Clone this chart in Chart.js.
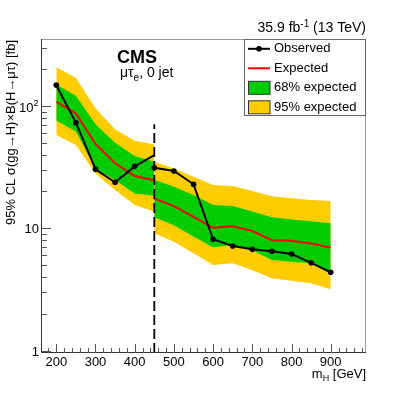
<!DOCTYPE html>
<html>
<head>
<meta charset="utf-8">
<script src="https://cdn.jsdelivr.net/npm/chart.js@4/dist/chart.umd.min.js"></script>
<style>
  html, body { margin: 0; padding: 0; background: #fff; }
</style>
</head>
<body>
<canvas id="limits" width="407" height="393"></canvas>
<script>
'use strict';

// Higgs mass points [GeV], split at the 450 GeV boundary between the two selections
const massLow = [200, 250, 300, 350, 400, 450];
const massHigh = [450, 500, 550, 600, 650, 700, 750, 800, 850, 900];

// 95% CL upper limits [fb], low mass range
const observedLow = [148, 73, 30.4, 23.8, 32.1, 39.7];
const expectedLow = [108, 87, 49, 34, 26.8, 24.7];
const band68UpLow = [150, 121, 71, 50, 39, 35];
const band68DnLow = [76, 62, 31, 24.8, 19.3, 18.5];
const band95UpLow = [207, 170, 96, 64.5, 52, 48.5];
const band95DnLow = [58, 48, 28, 20.6, 15.5, 13.7];

// 95% CL upper limits [fb], high mass range
const observedHigh = [31.3, 29.4, 22.9, 8.13, 7.17, 6.73, 6.49, 6.17, 5.22, 4.37];
const expectedHigh = [17.5, 15.2, 12.4, 10.1, 10.4, 9.5, 8.0, 7.9, 7.5, 6.95];
const band68UpHigh = [25, 21.9, 18.7, 15.5, 15.2, 13.7, 12.3, 11.8, 11.4, 11.0];
const band68DnHigh = [12.3, 10.6, 8.55, 7.0, 7.3, 6.6, 5.5, 5.33, 5.17, 4.4];
const band95UpHigh = [35, 30.9, 26.4, 22.6, 22.2, 20.2, 18.3, 17.6, 17.0, 16.7];
const band95DnHigh = [9.1, 7.76, 6.25, 5.0, 5.17, 4.55, 3.9, 3.73, 3.55, 3.17];

// dashed boundary line
const boundaryMass = [450, 450];
const boundaryLimit = [0.956, 70.8];

// axes
const xTickValues = [200, 300, 400, 500, 600, 700, 800, 900];
const yTickValues = [1, 10, 100];
const yTickLabels = [['1', ''], ['10', ''], ['10', '2']];

const FONT = '"Liberation Sans", Arial, Helvetica, sans-serif';
const GREEN = '#00cc00';
const YELLOW = '#ffcc00';

const toPoints = (xs, ys) => xs.map((x, i) => ({ x, y: ys[i] }));

function band(xs, ys, color, fill) {
  return {
    data: toPoints(xs, ys),
    borderWidth: 0,
    borderColor: 'transparent',
    backgroundColor: color,
    pointRadius: 0,
    tension: 0,
    fill,
  };
}

// first dataset is drawn on top
const datasets = [
  {
    data: toPoints(boundaryMass, boundaryLimit),
    borderColor: '#000',
    borderWidth: 1.8,
    borderDash: [10, 4],
    pointRadius: 0,
    fill: false,
  },
  {
    data: toPoints(massLow, observedLow),
    borderColor: '#000',
    borderWidth: 2,
    pointRadius: massLow.map((m, i) => (i === massLow.length - 1 ? 0 : 2.8)),
    pointBackgroundColor: '#000',
    pointBorderWidth: 0,
    fill: false,
  },
  {
    data: toPoints(massHigh, observedHigh),
    borderColor: '#000',
    borderWidth: 2,
    pointRadius: 2.8,
    pointBackgroundColor: '#000',
    pointBorderWidth: 0,
    fill: false,
  },
  { data: toPoints(massLow, expectedLow), borderColor: '#ff0000', borderWidth: 2, pointRadius: 0, fill: false },
  { data: toPoints(massHigh, expectedHigh), borderColor: '#ff0000', borderWidth: 2, pointRadius: 0, fill: false },
  band(massLow, band68UpLow, GREEN, '+1'),
  band(massLow, band68DnLow, GREEN, false),
  band(massHigh, band68UpHigh, GREEN, '+1'),
  band(massHigh, band68DnHigh, GREEN, false),
  band(massLow, band95UpLow, YELLOW, '+1'),
  band(massLow, band95DnLow, YELLOW, false),
  band(massHigh, band95UpHigh, YELLOW, '+1'),
  band(massHigh, band95DnHigh, YELLOW, false),
];

// draws text made of pieces with their own size and vertical shift
function richText(ctx, parts, x, y, align, bold) {
  const weight = bold ? 'bold ' : '';
  let width = 0;
  for (const p of parts) {
    ctx.font = `${weight}${p.size}px ${FONT}`;
    width += ctx.measureText(p.t).width;
  }
  let cx = align === 'right' ? x - width : align === 'center' ? x - width / 2 : x;
  ctx.textAlign = 'left';
  for (const p of parts) {
    ctx.font = `${weight}${p.size}px ${FONT}`;
    ctx.fillText(p.t, cx, y + (p.dy || 0));
    cx += ctx.measureText(p.t).width;
  }
}

const decorations = {
  id: 'decorations',
  afterDraw(chart) {
    const { ctx, chartArea: a, scales } = chart;
    const xs = scales.x;
    const ys = scales.y;
    ctx.save();

    // frame
    ctx.lineWidth = 1;
    ctx.strokeStyle = '#999';
    ctx.beginPath();
    ctx.moveTo(a.left, a.top + 0.5);
    ctx.lineTo(a.right - 0.5, a.top + 0.5);
    ctx.lineTo(a.right - 0.5, a.bottom);
    ctx.stroke();
    ctx.strokeStyle = '#333';
    ctx.beginPath();
    ctx.moveTo(a.left + 0.5, a.top);
    ctx.lineTo(a.left + 0.5, a.bottom - 0.5);
    ctx.lineTo(a.right, a.bottom - 0.5);
    ctx.stroke();

    // x ticks, pointing inwards
    ctx.strokeStyle = '#555';
    ctx.beginPath();
    for (let m = 180; m < xs.max; m += 20) {
      const px = Math.round(xs.getPixelForValue(m)) + 0.5;
      const len = m % 100 === 0 ? 9 : 5;
      ctx.moveTo(px, a.bottom);
      ctx.lineTo(px, a.bottom - len);
    }
    // y ticks
    for (let d = 1; d <= 100; d *= 10) {
      for (let k = 1; k <= 9; k++) {
        const v = d * k;
        if (v > ys.max) break;
        const py = Math.round(ys.getPixelForValue(v)) + 0.5;
        const len = k === 1 ? 10 : 6;
        ctx.moveTo(a.left, py);
        ctx.lineTo(a.left + len, py);
      }
    }
    ctx.stroke();

    ctx.fillStyle = '#000';
    ctx.textBaseline = 'alphabetic';

    // x tick labels
    ctx.font = `13px ${FONT}`;
    ctx.textAlign = 'center';
    for (const v of xTickValues) {
      ctx.fillText(String(v), xs.getPixelForValue(v), a.bottom + 13);
    }
    // y tick labels
    yTickValues.forEach((v, i) => {
      const [base, exp] = yTickLabels[i];
      const py = ys.getPixelForValue(v) + 5;
      if (exp) {
        richText(ctx, [{ t: base, size: 13 }, { t: exp, size: 9, dy: -6 }], 38.5, py + 1, 'right');
      } else {
        richText(ctx, [{ t: base, size: 13 }], 39, py, 'right');
      }
    });

    // axis titles
    richText(ctx, [{ t: 'm', size: 13 }, { t: 'H', size: 9, dy: 3 }, { t: ' [GeV]', size: 13 }], a.right, 378, 'right');
    ctx.save();
    ctx.translate(14.5, a.top + 1);
    ctx.rotate(-Math.PI / 2);
    richText(ctx, [{ t: '95% CL σ(gg→H)×B(H→μτ) [fb]', size: 13 }], 0, 0, 'right');
    ctx.restore();

    // header texts
    richText(ctx, [{ t: '35.9 fb', size: 14 }, { t: '-1', size: 10, dy: -5 }, { t: ' (13 TeV)', size: 14 }], a.right, 32, 'right');
    richText(ctx, [{ t: 'CMS', size: 18 }], 137, 63.3, 'center', true);
    richText(ctx, [{ t: 'μτ', size: 14 }, { t: 'e', size: 10, dy: 4 }, { t: ', 0 jet', size: 14 }], 120, 76.5, 'left');

    // legend
    const lx = 244, ly = a.top, lw = a.right - 244, lh = 77;
    ctx.fillStyle = '#fff';
    ctx.fillRect(lx, ly, lw, lh);
    ctx.strokeStyle = '#666';
    ctx.lineWidth = 1;
    ctx.strokeRect(lx + 0.5, ly + 0.5, lw - 1, lh - 1);

    const rows = [48.8, 68.3, 87.8, 107.3];
    ctx.lineWidth = 2;
    ctx.strokeStyle = '#000';
    ctx.beginPath();
    ctx.moveTo(248, rows[0]);
    ctx.lineTo(270, rows[0]);
    ctx.stroke();
    ctx.fillStyle = '#000';
    ctx.beginPath();
    ctx.arc(259, rows[0], 2.8, 0, Math.PI * 2);
    ctx.fill();
    ctx.strokeStyle = '#ff0000';
    ctx.beginPath();
    ctx.moveTo(248, rows[1]);
    ctx.lineTo(270, rows[1]);
    ctx.stroke();
    ctx.lineWidth = 1;
    ctx.strokeStyle = '#333';
    ctx.fillStyle = GREEN;
    ctx.fillRect(248.5, rows[2] - 6.5, 21.5, 13);
    ctx.strokeRect(248.5, rows[2] - 6.5, 21.5, 13);
    ctx.fillStyle = YELLOW;
    ctx.fillRect(248.5, rows[3] - 6.5, 21.5, 13);
    ctx.strokeRect(248.5, rows[3] - 6.5, 21.5, 13);

    ctx.fillStyle = '#000';
    ctx.textBaseline = 'middle';
    ctx.textAlign = 'left';
    ctx.font = `13px ${FONT}`;
    ['Observed', 'Expected', '68% expected', '95% expected'].forEach((t, i) => {
      ctx.fillText(t, 274, rows[i]);
    });

    ctx.restore();
  },
};

new Chart(document.getElementById('limits'), {
  type: 'line',
  data: { datasets },
  options: {
    responsive: false,
    animation: false,
    devicePixelRatio: 1,
    events: [],
    layout: { padding: { left: 41, top: 39, right: 41, bottom: 40 } },
    scales: {
      x: { type: 'linear', min: 161, max: 990, display: false },
      y: { type: 'logarithmic', min: 0.956, max: 353, display: false },
    },
    plugins: {
      legend: { display: false },
      tooltip: { enabled: false },
    },
  },
  plugins: [decorations],
});
</script>
</body>
</html>
